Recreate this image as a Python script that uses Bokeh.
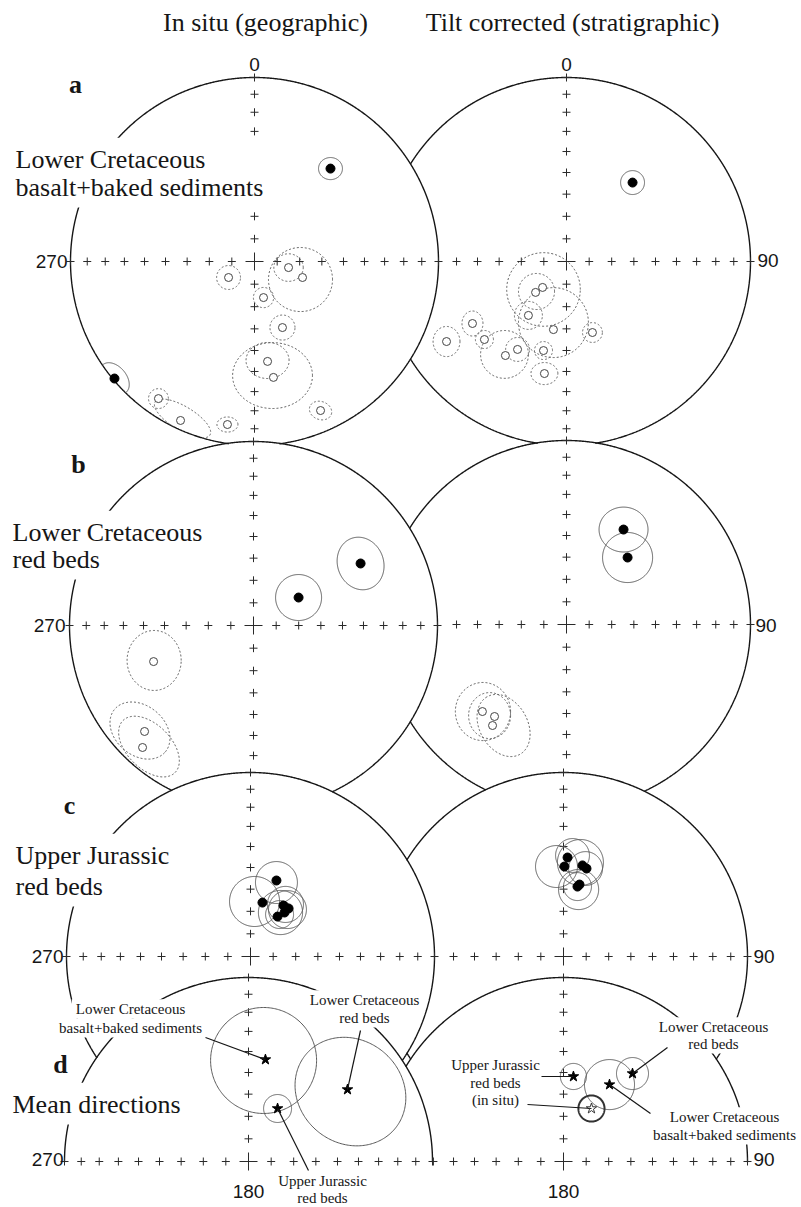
import numpy as np
from bokeh.plotting import figure
from bokeh.models import Range1d
from bokeh.core.properties import value
from bokeh.embed import file_html
from bokeh.resources import INLINE

# ============================ DATA ============================
# Equal-area projected directions in units of the net radius (x = east, y = north).
# *_up = upper hemisphere (filled symbols, solid cones); *_dn = lower hemisphere (open, dashed cones)
# Cones: centre (x, y), semi-axis a along angle ang (deg, ccw from east), semi-axis b.

INC_TICKS = [10, 20, 30, 40, 50, 60, 70, 80]

# (a) Lower Cretaceous basalt + baked sediments -- in situ
a_geo_up_x = [0.413, -0.761]
a_geo_up_y = [0.505, -0.636]
a_geo_upc_x = [0.413, -0.761]
a_geo_upc_y = [0.505, -0.636]
a_geo_upc_a = [0.065, 0.098]
a_geo_upc_b = [0.060, 0.065]
a_geo_upc_ang = [0, -50]
a_geo_dn_x = [-0.141, 0.185, 0.261, 0.049, 0.152, 0.071, 0.103, 0.359, -0.147, -0.522, -0.402]
a_geo_dn_y = [-0.087, -0.033, -0.087, -0.196, -0.359, -0.543, -0.630, -0.810, -0.886, -0.745, -0.864]
a_geo_dnc_x = [-0.141, 0.185, 0.250, 0.049, 0.152, 0.071, 0.098, 0.359, -0.147, -0.522, -0.391]
a_geo_dnc_y = [-0.087, -0.033, -0.098, -0.196, -0.359, -0.538, -0.620, -0.810, -0.886, -0.745, -0.853]
a_geo_dnc_a = [0.065, 0.080, 0.174, 0.055, 0.068, 0.117, 0.217, 0.062, 0.057, 0.054, 0.174]
a_geo_dnc_b = [0.065, 0.075, 0.174, 0.055, 0.068, 0.098, 0.179, 0.049, 0.041, 0.054, 0.065]
a_geo_dnc_ang = [0, 0, 0, 0, 0, 0, 0, -20, 0, 0, -31]

# (a) tilt corrected
a_str_up_x = [0.359]
a_str_up_y = [0.429]
a_str_upc_x = [0.359]
a_str_upc_y = [0.429]
a_str_upc_a = [0.065]
a_str_upc_b = [0.065]
a_str_upc_ang = [0]
a_str_dn_x = [-0.168, -0.130, -0.207, -0.071, 0.141, -0.511, -0.652, -0.446, -0.332, -0.266, -0.125, -0.120]
a_str_dn_y = [-0.168, -0.141, -0.293, -0.370, -0.386, -0.337, -0.435, -0.424, -0.511, -0.478, -0.484, -0.609]
a_str_dnc_x = [-0.163, -0.125, -0.207, -0.071, 0.141, -0.511, -0.652, -0.446, -0.337, -0.266, -0.125, -0.120]
a_str_dnc_y = [-0.163, -0.152, -0.293, -0.332, -0.386, -0.337, -0.435, -0.424, -0.505, -0.478, -0.484, -0.609]
a_str_dnc_a = [0.098, 0.200, 0.076, 0.190, 0.054, 0.057, 0.073, 0.049, 0.130, 0.065, 0.049, 0.073]
a_str_dnc_b = [0.098, 0.200, 0.076, 0.190, 0.054, 0.068, 0.082, 0.049, 0.130, 0.065, 0.049, 0.060]
a_str_dnc_ang = [0, 0, 0, 0, 0, 0, 0, 0, 0, 0, 0, 0]

# (b) Lower Cretaceous red beds -- in situ
b_geo_up_x = [0.245, 0.582]
b_geo_up_y = [0.152, 0.337]
b_geo_upc_x = [0.245, 0.582]
b_geo_upc_y = [0.152, 0.337]
b_geo_upc_a = [0.125, 0.145]
b_geo_upc_b = [0.125, 0.125]
b_geo_upc_ang = [0, 110]
b_geo_dn_x = [-0.543, -0.592, -0.603]
b_geo_dn_y = [-0.196, -0.576, -0.663]
b_geo_dnc_x = [-0.540, -0.617, -0.568]
b_geo_dnc_y = [-0.190, -0.571, -0.658]
b_geo_dnc_a = [0.147, 0.180, 0.200]
b_geo_dnc_b = [0.163, 0.135, 0.120]
b_geo_dnc_ang = [0, -40, -45]

# (b) tilt corrected
b_str_up_x = [0.310, 0.332]
b_str_up_y = [0.516, 0.364]
b_str_upc_x = [0.310, 0.332]
b_str_upc_y = [0.516, 0.364]
b_str_upc_a = [0.133, 0.136]
b_str_upc_b = [0.122, 0.136]
b_str_upc_ang = [0, 0]
b_str_dn_x = [-0.457, -0.391, -0.402]
b_str_dn_y = [-0.473, -0.500, -0.549]
b_str_dnc_x = [-0.454, -0.418, -0.342]
b_str_dnc_y = [-0.473, -0.495, -0.549]
b_str_dnc_a = [0.150, 0.114, 0.180]
b_str_dnc_b = [0.158, 0.125, 0.130]
b_str_dnc_ang = [0, 0, 120]

# (c) Upper Jurassic red beds -- in situ
c_geo_up_x = [0.141, 0.065, 0.179, 0.207, 0.147, 0.185]
c_geo_up_y = [0.413, 0.293, 0.277, 0.261, 0.217, 0.239]
c_geo_upc_x = [0.141, 0.022, 0.163, 0.190, 0.201, 0.158]
c_geo_upc_y = [0.402, 0.299, 0.239, 0.283, 0.255, 0.228]
c_geo_upc_a = [0.114, 0.136, 0.120, 0.098, 0.103, 0.076]
c_geo_upc_b = [0.114, 0.136, 0.120, 0.098, 0.103, 0.076]
c_geo_upc_ang = [0, 0, 0, 0, 0, 0]

# (c) tilt corrected
c_str_up_x = [0.022, 0.005, 0.103, 0.125, 0.076, 0.087]
c_str_up_y = [0.538, 0.489, 0.495, 0.478, 0.380, 0.391]
c_str_upc_x = [-0.038, 0.092, 0.082, 0.049, 0.120, 0.076]
c_str_upc_y = [0.489, 0.511, 0.364, 0.549, 0.478, 0.380]
c_str_upc_a = [0.114, 0.125, 0.109, 0.092, 0.092, 0.076]
c_str_upc_b = [0.114, 0.125, 0.109, 0.092, 0.092, 0.076]
c_str_upc_ang = [0, 0, 0, 0, 0, 0]

# (d) Mean directions -- in situ: LK basalt, LK red beds, UJ red beds
d_geo_names = ["Lower Cretaceous basalt+baked sediments", "Lower Cretaceous red beds", "Upper Jurassic red beds"]
d_geo_x = [0.092, 0.538, 0.158]
d_geo_y = [0.554, 0.391, 0.288]
d_geoc_x = [0.082, 0.554, 0.158]
d_geoc_y = [0.549, 0.380, 0.288]
d_geoc_a = [0.288, 0.315, 0.076]
d_geoc_b = [0.288, 0.280, 0.076]
d_geoc_ang = [0, -40, 0]

# (d) tilt corrected: UJ red beds, LK basalt, LK red beds ; plus UJ in situ (open star)
d_str_names = ["Upper Jurassic red beds", "Lower Cretaceous basalt+baked sediments", "Lower Cretaceous red beds"]
d_str_x = [0.054, 0.250, 0.375]
d_str_y = [0.462, 0.418, 0.478]
d_strc_a = [0.071, 0.136, 0.087]
d_situ_x = [0.152]
d_situ_y = [0.288]
d_situc_a = [0.071]

# ============================ LAYOUT ============================
R = 184.0
NETS = {
    "aL": (254, 261), "aR": (566, 261),
    "bL": (253, 625), "bR": (566, 624),
    "cL": (250, 956), "cR": (563, 956),
    "dL": (248, 1161), "dR": (563, 1161),
}
PRIORITY = ["dL", "dR", "cL", "cR", "bL", "bR", "aL", "aR"]
HALF = {"dL", "dR"}

SERIF = value("Liberation Serif")
SANS = value("Liberation Sans")
INK = "#161616"
CONE = "#5a5a5a"

W, H = 801, 1207
p = figure(width=W, height=H, x_range=Range1d(0, W), y_range=Range1d(H, 0),
           output_backend="svg", toolbar_location=None, min_border=0,
           x_axis_location=None, y_axis_location=None)
p.grid.visible = False
p.outline_line_color = None
p.background_fill_color = "white"
p.border_fill_color = "white"


def covered(name, x, y):
    x = np.asarray(x, float); y = np.asarray(y, float)
    hid = np.zeros(x.shape, dtype=bool)
    for other in PRIORITY[:PRIORITY.index(name)]:
        ox, oy = NETS[other]
        hid |= (x - ox) ** 2 + (y - oy) ** 2 < (R - 0.7) ** 2
    if name in HALF:
        hid |= y > NETS[name][1] + 1.5
    return hid


def runs(x, y, vis, closed=False):
    xs, ys, cx, cy = [], [], [], []
    for xi, yi, v in zip(x, y, vis):
        if v:
            cx.append(float(xi)); cy.append(float(yi))
        else:
            if len(cx) > 1:
                xs.append(cx); ys.append(cy)
            cx, cy = [], []
    if len(cx) > 1:
        xs.append(cx); ys.append(cy)
    if closed and len(xs) > 1 and vis[0] and vis[-1]:
        xs[0] = xs.pop() + xs[0]
        ys[0] = ys.pop() + ys[0]
    return xs, ys


def to_px(name, ex, ey):
    cx, cy = NETS[name]
    return cx + R * np.asarray(ex, float), cy - R * np.asarray(ey, float)


# ---- primitive circles
t = np.linspace(0, 2 * np.pi, 1441)
cxs, cys = [], []
for name in PRIORITY:
    cx, cy = NETS[name]
    x = cx + R * np.cos(t); y = cy + R * np.sin(t)
    xs, ys = runs(x, y, ~covered(name, x, y), closed=True)
    cxs += xs; cys += ys
p.multi_line(cxs, cys, line_color=INK, line_width=1.4)

# ---- inclination tick crosses
r_ticks = [np.sqrt(2) * np.sin(np.radians((90 - I) / 2.0)) for I in INC_TICKS] + [1.0]
kx, ky = [], []
for name in PRIORITY:
    cx, cy = NETS[name]
    dirs = [(0, 1), (1, 0), (-1, 0)] + ([] if name in HALF else [(0, -1)])
    for dx, dy in dirs:
        for r in r_ticks:
            x = cx + R * r * dx; y = cy - R * r * dy
            if covered(name, [x], [y])[0]:
                continue
            s = 4.0
            kx += [[x - s, x + s], [x, x]]; ky += [[y, y], [y - s, y + s]]
    s = 9.0
    kx += [[cx - s, cx + s], [cx, cx]]; ky += [[cy, cy], [cy - s, cy + s]]
p.multi_line(kx, ky, line_color="#2a2a2a", line_width=1.0)


# ---- cones of confidence
def cone_runs(name, ex, ey, ea, eb, ang):
    xs_all, ys_all = [], []
    tt = np.linspace(0, 2 * np.pi, 241)
    for e, n, a, b, g in zip(ex, ey, ea, eb, ang):
        ca, sa = np.cos(np.radians(g)), np.sin(np.radians(g))
        u = e + a * np.cos(tt) * ca - b * np.sin(tt) * sa
        v = n + a * np.cos(tt) * sa + b * np.sin(tt) * ca
        vis = u ** 2 + v ** 2 <= 1.0
        px, py = to_px(name, u, v)
        xs, ys = runs(px, py, vis, closed=True)
        xs_all += xs; ys_all += ys
    return xs_all, ys_all


solid_x, solid_y, dash_x, dash_y = [], [], [], []
for name, cset, dashed in [
    ("aL", (a_geo_upc_x, a_geo_upc_y, a_geo_upc_a, a_geo_upc_b, a_geo_upc_ang), False),
    ("aL", (a_geo_dnc_x, a_geo_dnc_y, a_geo_dnc_a, a_geo_dnc_b, a_geo_dnc_ang), True),
    ("aR", (a_str_upc_x, a_str_upc_y, a_str_upc_a, a_str_upc_b, a_str_upc_ang), False),
    ("aR", (a_str_dnc_x, a_str_dnc_y, a_str_dnc_a, a_str_dnc_b, a_str_dnc_ang), True),
    ("bL", (b_geo_upc_x, b_geo_upc_y, b_geo_upc_a, b_geo_upc_b, b_geo_upc_ang), False),
    ("bL", (b_geo_dnc_x, b_geo_dnc_y, b_geo_dnc_a, b_geo_dnc_b, b_geo_dnc_ang), True),
    ("bR", (b_str_upc_x, b_str_upc_y, b_str_upc_a, b_str_upc_b, b_str_upc_ang), False),
    ("bR", (b_str_dnc_x, b_str_dnc_y, b_str_dnc_a, b_str_dnc_b, b_str_dnc_ang), True),
    ("cL", (c_geo_upc_x, c_geo_upc_y, c_geo_upc_a, c_geo_upc_b, c_geo_upc_ang), False),
    ("cR", (c_str_upc_x, c_str_upc_y, c_str_upc_a, c_str_upc_b, c_str_upc_ang), False),
    ("dL", (d_geoc_x, d_geoc_y, d_geoc_a, d_geoc_b, d_geoc_ang), False),
    ("dR", (d_str_x, d_str_y, d_strc_a, d_strc_a, [0] * len(d_str_x)), False),
]:
    xs, ys = cone_runs(name, *cset)
    if dashed:
        dash_x += xs; dash_y += ys
    else:
        solid_x += xs; solid_y += ys
p.multi_line(solid_x, solid_y, line_color=CONE, line_width=1.0)
p.multi_line(dash_x, dash_y, line_color=CONE, line_width=1.0, line_dash="2 2")
sx, sy = cone_runs("dR", d_situ_x, d_situ_y, d_situc_a, d_situc_a, [0])
p.multi_line(sx, sy, line_color="#333333", line_width=2.0)

# ---- site symbols
for name, ux, uy, dx_, dy_ in [
    ("aL", a_geo_up_x, a_geo_up_y, a_geo_dn_x, a_geo_dn_y),
    ("aR", a_str_up_x, a_str_up_y, a_str_dn_x, a_str_dn_y),
    ("bL", b_geo_up_x, b_geo_up_y, b_geo_dn_x, b_geo_dn_y),
    ("bR", b_str_up_x, b_str_up_y, b_str_dn_x, b_str_dn_y),
    ("cL", c_geo_up_x, c_geo_up_y, [], []),
    ("cR", c_str_up_x, c_str_up_y, [], []),
]:
    fx, fy = to_px(name, ux, uy)
    p.scatter(fx, fy, marker="circle", size=9, fill_color="black", line_color="black")
    if len(dx_):
        ox, oy = to_px(name, dx_, dy_)
        p.scatter(ox, oy, marker="circle", size=8, fill_color="white", line_color="#444444", line_width=1.0)

dgx, dgy = to_px("dL", d_geo_x, d_geo_y)
p.scatter(dgx, dgy, marker="star", size=11, fill_color="black", line_color="black")
dsx, dsy = to_px("dR", d_str_x, d_str_y)
p.scatter(dsx, dsy, marker="star", size=11, fill_color="black", line_color="black")
dux, duy = to_px("dR", d_situ_x, d_situ_y)
p.scatter(dux, duy, marker="star", size=11, fill_color="white", line_color="#333333", line_width=1.0)

# ============================ TEXT ============================
TW = {' ': 250, '(': 333, ')': 333, '+': 564, 'a': 444, 'b': 500, 'c': 444, 'd': 500, 'e': 444,
      'g': 500, 'h': 500, 'i': 278, 'k': 500, 'l': 278, 'm': 778, 'n': 500, 'o': 500, 'p': 500,
      'r': 333, 's': 389, 't': 278, 'u': 500, 'w': 722, 'C': 667, 'J': 389, 'L': 611, 'M': 889,
      'U': 722, 'T': 611}


def text_w(s, size):
    return sum(TW.get(ch, 500) for ch in s) / 1000.0 * size


def lift(size):
    # rendered alphabetic baseline sits lower than requested; compensate
    return 0.32 * size


BIG = 26
big_blocks = [
    (15, [("Lower Cretaceous", 167), ("basalt+baked sediments", 195)]),
    (12, [("Lower Cretaceous", 540), ("red beds", 567)]),
    (15, [("Upper Jurassic", 863), ("red beds", 894)]),
    (12, [("Mean directions", 1112)]),
]
SMALL = 15
small_blocks = [
    (130, [("Lower Cretaceous", 1013), ("basalt+baked sediments", 1032)]),
    (364, [("Lower Cretaceous", 1004), ("red beds", 1022)]),
    (322, [("Upper Jurassic", 1185), ("red beds", 1202)]),
    (495, [("Upper Jurassic", 1069), ("red beds", 1087), ("(in situ)", 1104)]),
    (713, [("Lower Cretaceous", 1031), ("red beds", 1048)]),
    (724, [("Lower Cretaceous", 1121), ("basalt+baked sediments", 1139)]),
]

ml, mr, mt, mb = [], [], [], []
pad = 12
for x0, lines in big_blocks:
    w = max(text_w(s, BIG) for s, _ in lines)
    ml.append(x0 - pad); mr.append(x0 + w + pad)
    mt.append(lines[0][1] - 0.68 * BIG - pad); mb.append(lines[-1][1] + pad)
for xc, lines in small_blocks:
    for s, yb in lines:
        w = text_w(s, SMALL)
        ml.append(xc - w / 2 - 4); mr.append(xc + w / 2 + 4)
        mt.append(yb - 0.68 * SMALL - 4); mb.append(yb + 5)
p.quad(left=ml, right=mr, top=mt, bottom=mb, fill_color="white", line_color=None)

# ---- pointer lines from small labels to the mean directions
ptr_x = [[205, dgx[0]], [360, dgx[1]], [308, dgx[2]],
         [541, dsx[0]], [650, dsx[1]], [667, dsx[2]], [527, dux[0]]]
ptr_y = [[1037, dgy[0]], [1030, dgy[1]], [1170, dgy[2]],
         [1076, dsy[0]], [1113, dsy[1]], [1047, dsy[2]], [1104, duy[0]]]
p.multi_line(ptr_x, ptr_y, line_color=INK, line_width=1.2)


def put_text(xs, ys, texts, font, size, align, style="normal"):
    p.text(x=list(xs), y=[y - lift(size) for y in ys], text=list(texts), text_font=font,
           text_font_size=f"{size}px", text_font_style=style, text_align=align,
           text_baseline="alphabetic", text_color=INK)


for x0, lines in big_blocks:
    put_text([x0] * len(lines), [yb for _, yb in lines], [s for s, _ in lines], SERIF, BIG, "left")
for xc, lines in small_blocks:
    put_text([xc] * len(lines), [yb for _, yb in lines], [s for s, _ in lines], SERIF, SMALL, "center")

# titles
put_text([265, 572], [30, 30], ["In situ (geographic)", "Tilt corrected (stratigraphic)"], SERIF, 26, "center")
# panel letters
put_text([75, 78, 69, 60], [92, 472, 813, 1072], ["a", "b", "c", "d"], SERIF, 26, "center", "bold")

# cardinal labels
NUM = 19
put_text([NETS["aL"][0], NETS["aR"][0]], [70, 70], ["0", "0"], SANS, NUM, "center")
put_text([67, 65, 63, 63], [267, 631, 962, 1165], ["270"] * 4, SANS, NUM, "right")
put_text([757, 755, 753, 753], [266, 631, 962, 1165], ["90"] * 4, SANS, NUM, "left")
put_text([NETS["dL"][0], NETS["dR"][0]], [1197, 1197], ["180", "180"], SANS, NUM, "center")

open("out.html", "w").write(file_html(p, INLINE))
